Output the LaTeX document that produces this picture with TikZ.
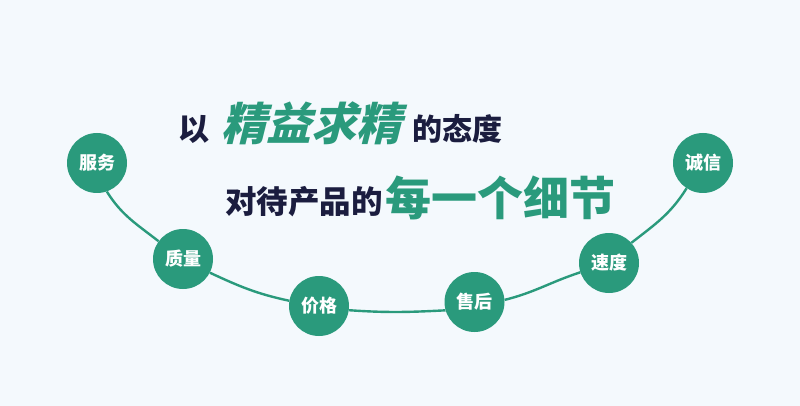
\documentclass[tikz,border=0pt]{standalone}
\usepackage{fontspec}
\newfontfamily\cjk{Noto Sans CJK SC}[BoldFont={* Black}]
\newfontfamily\cjkslant{Noto Sans CJK SC}[FakeSlant=0.25,BoldFont={* Black},BoldFeatures={FakeSlant=0.25}]
\definecolor{bgc}{HTML}{F4F9FD}
\definecolor{teal}{HTML}{2A9A7C}
\definecolor{navy}{HTML}{1B1D3F}
\begin{document}
\begin{tikzpicture}[x=1pt,y=-1pt,
  dot/.style={circle,fill=teal,minimum size=60pt,inner sep=0pt,text=white,font=\cjk\bfseries\fontsize{18}{18}\selectfont},
  link/.style={draw=teal,line width=2.4pt},
  dark/.style={inner sep=0pt,text=navy},
  green/.style={inner sep=0pt,text=teal}]
\fill[bgc] (0,0) rectangle (800,406);
\useasboundingbox (0,0) rectangle (800,406);
% title
\node[dark,font=\cjk\bfseries\fontsize{31}{31}\selectfont] (t1) at (194,129) {以};
\node[green,font=\cjkslant\bfseries\fontsize{45}{45}\selectfont] (t2) at (311,123) {精益求精};
\node[dark,font=\cjk\bfseries\fontsize{30}{30}\selectfont] (t3) at (457,129) {的态度};
\node[dark,font=\cjk\bfseries\fontsize{31.5}{31.5}\selectfont] (t4) at (304,202) {对待产品的};
\node[green,font=\cjk\bfseries\fontsize{46}{46}\selectfont] (t5) at (500,198) {每一个细节};
% circles
\node[dot] (a) at (97,163) {服务};
\node[dot] (b) at (183,259) {质量};
\node[dot] (c) at (319,306) {价格};
\node[dot] (d) at (474.5,302) {售后};
\node[dot] (e) at (609,263) {速度};
\node[dot] (f) at (703,163) {诚信};
% connectors
\draw[link] (a.-71) to[out=-58,in=142] (b.144);
\draw[link] (b.-27) to[out=-25,in=168] (c.170);
\draw[link] (c.-8) to[out=-4,in=183] (d.196);
\draw[link] (d.4) to[out=14,in=198] (e.198);
\draw[link] (e.42) to[out=38,in=238] (f.237);
\end{tikzpicture}
\end{document}
